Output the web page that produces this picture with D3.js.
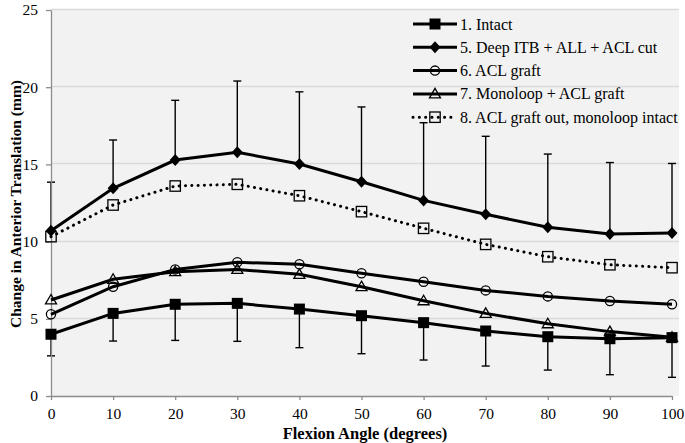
<!DOCTYPE html>
<html>
<head>
<meta charset="utf-8">
<script src="https://cdn.jsdelivr.net/npm/d3@7"></script>
<style>
  body { margin: 0; background: #fff; }
  svg text { font-family: "Liberation Serif", "Times New Roman", serif; }
</style>
</head>
<body>
<svg id="chart" width="685" height="443"></svg>
<script>
// Data
let angles = [0, 10, 20, 30, 40, 50, 60, 70, 80, 90, 100]
let intact = [4.0, 5.35, 5.94, 6.0, 5.63, 5.2, 4.75, 4.21, 3.84, 3.71, 3.78]
let intactErrLow = [2.6, 3.56, 3.6, 3.54, 3.13, 2.74, 2.33, 1.94, 1.68, 1.38, 1.21]
let deepCut = [10.71, 13.45, 15.28, 15.78, 15.03, 13.88, 12.67, 11.77, 10.93, 10.49, 10.56]
let deepCutErrHigh = [13.85, 16.58, 19.15, 20.4, 19.7, 18.72, 17.7, 16.82, 15.67, 15.12, 15.06]
let aclGraft = [5.29, 7.08, 8.2, 8.66, 8.53, 7.95, 7.4, 6.84, 6.45, 6.15, 5.94]
let monoloop = [6.22, 7.56, 8.05, 8.2, 7.88, 7.08, 6.17, 5.35, 4.68, 4.17, 3.8]
let graftOut = [10.32, 12.37, 13.6, 13.71, 12.97, 11.94, 10.86, 9.82, 9.02, 8.5, 8.31]
let yTicks = [0, 5, 10, 15, 20, 25]

let seriesList = [
  {"title": "1. Intact", "values": intact, "marker": "square", "dotted": false},
  {"title": "5. Deep ITB + ALL + ACL cut", "values": deepCut, "marker": "diamond", "dotted": false},
  {"title": "6. ACL graft", "values": aclGraft, "marker": "circle", "dotted": false},
  {"title": "7. Monoloop + ACL graft", "values": monoloop, "marker": "triangle", "dotted": false},
  {"title": "8. ACL graft out, monoloop intact", "values": graftOut, "marker": "openSquare", "dotted": true}
]

let serif = '"Liberation Serif", "Times New Roman", serif'

// Layout
let svg = d3.select("#chart")
let plot = {left: 51, right: 679, top: 10, bottom: 396}
let x = d3.scaleLinear().domain([0, 100]).range([plot.left, 672])
let y = d3.scaleLinear().domain([0, 25]).range([plot.bottom, plot.top])

// Plot background + grid
svg.append("rect")
  .attr("x", plot.left).attr("y", plot.top - 1)
  .attr("width", plot.right - plot.left).attr("height", plot.bottom - plot.top + 1)
  .attr("fill", "#f2f2f2")

svg.append("g").selectAll("line")
  .data(yTicks.filter(d => d > 0))
  .join("line")
  .attr("x1", plot.left).attr("x2", plot.right)
  .attr("y1", d => Math.round(y(d)) - 0.5).attr("y2", d => Math.round(y(d)) - 0.5)
  .attr("stroke", "#d9d9d9").attr("stroke-width", 1.3)

// Error bars
let drawErrors = (vals, ends) => {
  let g = svg.append("g").attr("stroke", "#000").attr("stroke-width", 1.4)
  angles.forEach((a, i) => {
    let px = x(a)
    g.append("line").attr("x1", px).attr("x2", px)
      .attr("y1", y(vals[i])).attr("y2", y(ends[i]))
    g.append("line").attr("x1", px - 4).attr("x2", px + 4)
      .attr("y1", y(ends[i])).attr("y2", y(ends[i]))
  })
}
drawErrors(deepCut, deepCutErrHigh)
drawErrors(intact, intactErrLow)

// Axes
let yAxis = svg.append("g")
  .attr("transform", `translate(${plot.left},0)`)
  .call(d3.axisLeft(y).tickValues(yTicks).tickSize(5).tickSizeOuter(0).tickPadding(8))
let xAxis = svg.append("g")
  .attr("transform", `translate(0,${plot.bottom})`)
  .call(d3.axisBottom(x).tickValues(angles).tickSize(4).tickSizeOuter(0).tickPadding(8))

;[yAxis, xAxis].forEach(ax => {
  ax.attr("font-family", serif).attr("font-size", 15)
  ax.select(".domain").attr("stroke", "#8c8c8c").attr("stroke-width", 1.3)
  ax.selectAll(".tick line").attr("stroke", "#8c8c8c").attr("stroke-width", 1.3)
  ax.selectAll(".tick text")
    .attr("fill", "#000")
    .style("font-family", serif)
    .style("font-size", "15.5px")
})

// Axis titles
svg.append("text")
  .attr("x", 365).attr("y", 439)
  .attr("text-anchor", "middle")
  .attr("font-weight", "bold").attr("font-size", "16.5px")
  .text("Flexion Angle (degrees)")

svg.append("text")
  .attr("transform", "translate(21,204) rotate(-90)")
  .attr("text-anchor", "middle")
  .attr("font-weight", "bold").attr("font-size", "15.5px")
  .text("Change in Anterior Translation (mm)")

// Markers
let drawMarker = (g, type, cx, cy) => {
  if (type === "square") {
    g.append("rect").attr("x", cx - 5.5).attr("y", cy - 5.5)
      .attr("width", 11).attr("height", 11).attr("fill", "#000")
  } else if (type === "diamond") {
    g.append("path").attr("d", `M${cx},${cy - 6}L${cx + 5.5},${cy}L${cx},${cy + 6}L${cx - 5.5},${cy}Z`)
      .attr("fill", "#000")
  } else if (type === "circle") {
    g.append("circle").attr("cx", cx).attr("cy", cy).attr("r", 4.6)
      .attr("fill", "none").attr("stroke", "#000").attr("stroke-width", 1.3)
  } else if (type === "triangle") {
    g.append("path").attr("d", `M${cx},${cy - 5.5}L${cx + 5.5},${cy + 4}L${cx - 5.5},${cy + 4}Z`)
      .attr("fill", "none").attr("stroke", "#000").attr("stroke-width", 1.3)
  } else if (type === "openSquare") {
    g.append("rect").attr("x", cx - 5.2).attr("y", cy - 5.2)
      .attr("width", 10.4).attr("height", 10.4)
      .attr("fill", "none").attr("stroke", "#000").attr("stroke-width", 1.3)
  }
}

let lineFn = d3.line()
  .x((d, i) => x(angles[i]))
  .y(d => y(d))

let styleLine = (sel, s) => {
  sel.attr("fill", "none").attr("stroke", "#000").attr("stroke-width", 3)
  if (s.dotted) sel.attr("stroke-dasharray", "0.1 6.2").attr("stroke-linecap", "round")
}

// draw Intact last so it sits on top
let drawOrder = [1, 2, 3, 4, 0]
drawOrder.forEach(k => {
  let s = seriesList[k]
  let g = svg.append("g")
  styleLine(g.append("path").attr("d", lineFn(s.values)), s)
  s.values.forEach((v, i) => drawMarker(g, s.marker, x(angles[i]), y(v)))
})

// Legend
let legend = svg.append("g")
seriesList.forEach((s, i) => {
  let ly = 24 + i * 23.3
  let row = legend.append("g")
  styleLine(row.append("path").attr("d", `M413,${ly}L457,${ly}`), s)
  drawMarker(row, s.marker, 435, ly)
  row.append("text")
    .attr("x", 460).attr("y", ly + 5.5)
    .attr("font-size", "16px")
    .text(s.title)
})
</script>
</body>
</html>
